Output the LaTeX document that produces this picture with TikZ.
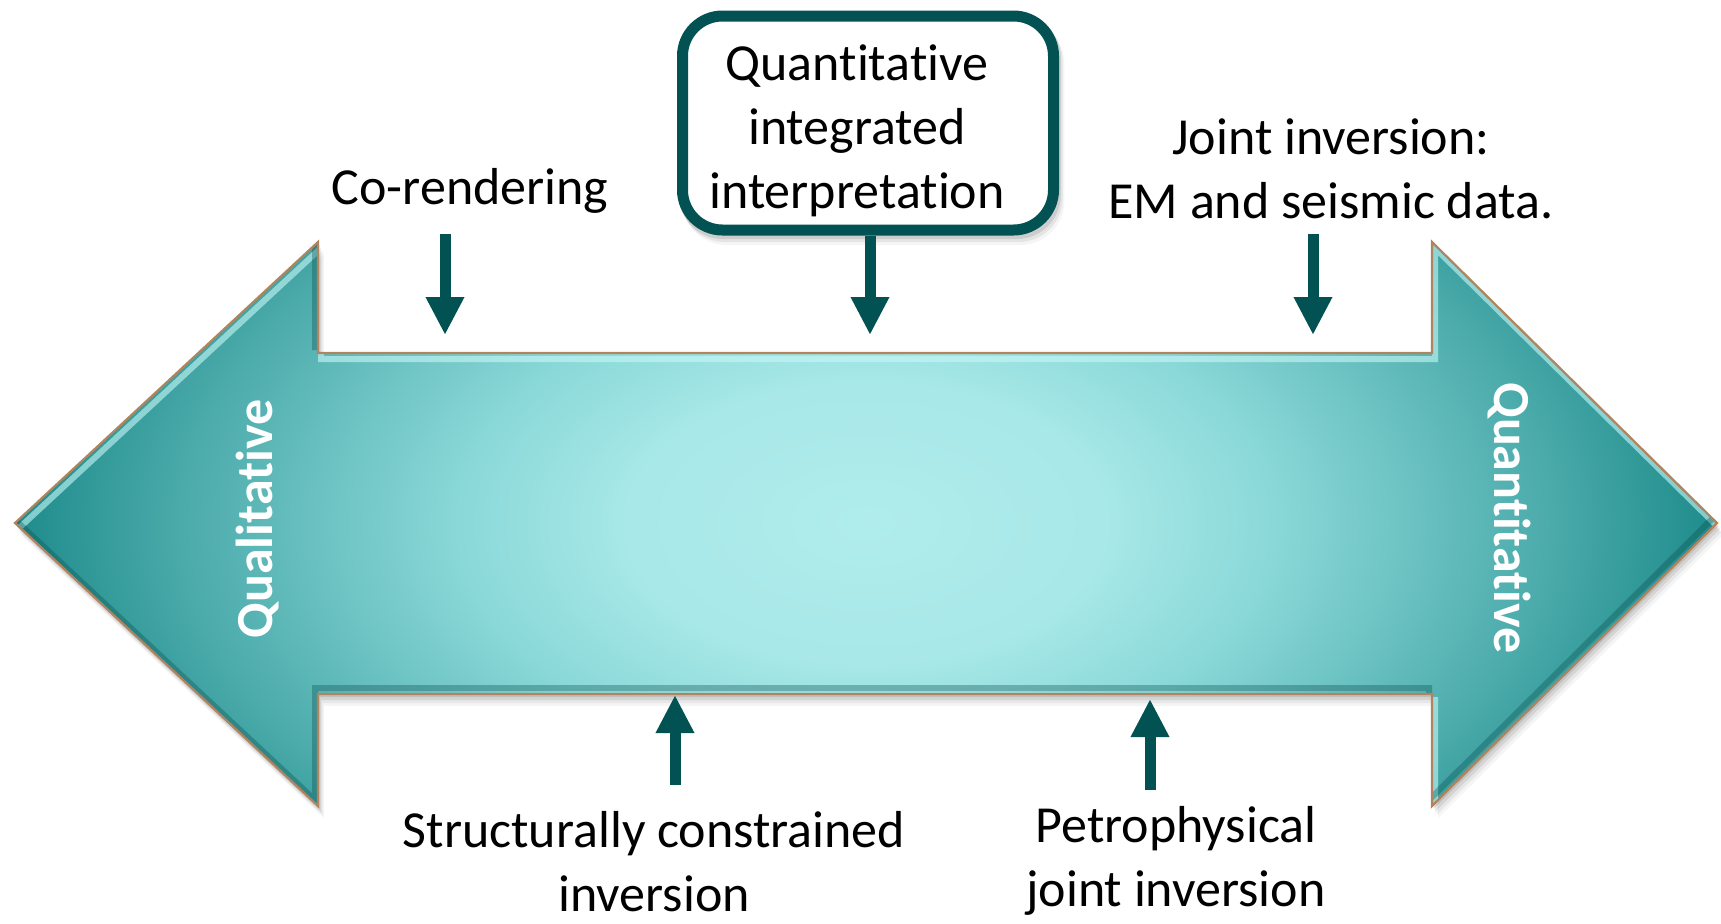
\documentclass[tikz,border=0pt]{standalone}
\usepackage{fontspec}
\setmainfont{Carlito}[Ligatures={NoCommon}]
\usetikzlibrary{arrows.meta}
\definecolor{tealdark}{HTML}{035253}
\definecolor{edgebrown}{HTML}{B0845E}
\definecolor{cA}{HTML}{B0ECEC}
\definecolor{cB}{HTML}{A8E8E8}
\definecolor{cC}{HTML}{8AD8D8}
\definecolor{cD}{HTML}{6CC2C2}
\definecolor{cE}{HTML}{48A8A8}
\definecolor{cF}{HTML}{1E8B8B}
\definecolor{hilite}{HTML}{C8F8F8}
\definecolor{shadowteal}{HTML}{0A4F50}
\pgfdeclareradialshading{arrowrad}{\pgfpoint{0bp}{0bp}}{color(0bp)=(cA); color(7bp)=(cB); color(12bp)=(cC); color(16bp)=(cD); color(20.5bp)=(cE); color(25bp)=(cF); color(50bp)=(cF)}
\def\arrowpath{(15,523) -- (318,242) -- (318,353) -- (1432,353) -- (1432,242) -- (1717,523) -- (1432,806) -- (1432,694) -- (318,694) -- (318,806) -- cycle}
\begin{document}
\begin{tikzpicture}[x=0.5pt,y=-0.5pt,
  lbl/.style={font=\fontsize{26}{32}\selectfont, align=center, inner sep=0pt},
  vlbl/.style={font=\fontsize{26}{32}\selectfont\bfseries, text=white, inner sep=0pt},
  conn/.style={draw=tealdark, line width=5.5pt, -{Triangle[width=18pt,length=19pt]}},
  qbox/.style={draw=tealdark, line width=5.5pt, fill=white, rounded corners=20pt,
    minimum width=185.5pt, minimum height=107pt, inner sep=0pt}]
\useasboundingbox (0,0) rectangle (1721,923);
% drop shadow of the double arrow
\foreach \d/\o in {3/0.10,6/0.08,9/0.06,12/0.04}{
  \fill[black, opacity=\o, shift={(\d*0.5,\d)}] \arrowpath;
}
% body
\begin{scope}
  \clip \arrowpath;
  \shade[shading=arrowrad] (15,25) rectangle (1717,1021);
  \draw[shift={(3,6)}, line width=3pt, hilite, opacity=0.6] \arrowpath;
  \draw[shift={(-3,-6)}, line width=3pt, shadowteal, opacity=0.35] \arrowpath;
\end{scope}
\draw[edgebrown, line width=1.1pt, line join=miter] \arrowpath;
% box shadow
\foreach \d/\o in {3/0.10,6/0.07,9/0.04}{
  \fill[black, opacity=\o, rounded corners=22pt, shift={(\d*0.6,\d)}] (677,11) rectangle (1059,236);
}
% labels
\node[lbl] (cr) at (470,191) {Co-rendering};
\node[qbox] (qb) at (868,123) {};
\node[lbl] (qt) at (857,131) {Quantitative\\integrated\\interpretation};
\node[lbl] (ji) at (1331,169) {Joint inversion:\\EM and seismic data.};
\node[lbl] (sc) at (654,862) {Structurally constrained\\inversion};
\node[lbl] (pj) at (1176,861) {Petrophysical\\joint inversion};
\node[vlbl, rotate=90] (ql) at (258,519) {Qualitative};
\node[vlbl, rotate=-90] (qn) at (1509,518) {Quantitative};
% connectors
\coordinate (a1s) at (445,234); \coordinate (a1e) at (445,335);
\coordinate (a2e) at (870,335);
\coordinate (a3s) at (1313,234); \coordinate (a3e) at (1313,335);
\coordinate (a4s) at (675,785); \coordinate (a4e) at (675,695);
\coordinate (a5s) at (1150,790); \coordinate (a5e) at (1150,699);
\draw[conn] (a1s) -- (a1e);
\draw[conn] (qb.south -| a2e) -- (a2e);
\draw[conn] (a3s) -- (a3e);
\draw[conn] (a4s) -- (a4e);
\draw[conn] (a5s) -- (a5e);
\end{tikzpicture}
\end{document}
